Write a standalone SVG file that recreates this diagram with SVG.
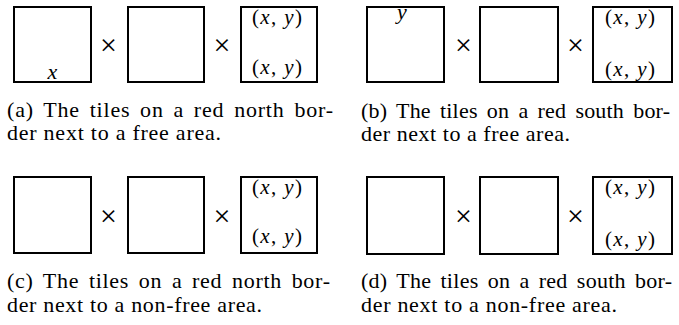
<svg xmlns="http://www.w3.org/2000/svg" width="679" height="325" viewBox="0 0 679 325">
<style>
.tile{fill:none;stroke:#000;stroke-width:2}
.m{font-family:"Liberation Serif","DejaVu Serif",serif;font-size:21px;fill:#000}
.i{font-style:italic}
.v{font-family:"Liberation Serif","DejaVu Serif",serif;font-size:22px;font-style:italic;fill:#000;text-anchor:middle}
.op{font-family:"Liberation Serif","DejaVu Serif",serif;font-size:30px;fill:#000;text-anchor:middle}
.cap{font-family:"Liberation Serif","Times New Roman",serif;font-size:22px;fill:#000}
.j{word-spacing:3.5px}
</style>
<rect width="679" height="325" fill="#fff"/>
<g id="panel-a">
  <g id="a-tile1"><rect class="tile" x="14" y="7" width="77" height="75"/><text class="v" x="52.5" y="79">x</text></g>
  <text class="op" x="108.5" y="55">×</text>
  <g id="a-tile2"><rect class="tile" x="128" y="7" width="76" height="75"/></g>
  <text class="op" x="222" y="55">×</text>
  <g id="a-tile3"><rect class="tile" x="241" y="7" width="76" height="75"/>
    <text class="m" x="252" y="24" textLength="50" lengthAdjust="spacing">(<tspan class="i">x</tspan>, <tspan class="i">y</tspan>)</text>
    <text class="m" x="252" y="74" textLength="50" lengthAdjust="spacing">(<tspan class="i">x</tspan>, <tspan class="i">y</tspan>)</text>
  </g>
  <text class="cap j" x="7" y="117" textLength="326" lengthAdjust="spacing">(a) The tiles on a red north bor-</text>
  <text class="cap" x="7" y="140" textLength="214" lengthAdjust="spacing">der next to a free area.</text>
</g>
<g id="panel-b">
  <g id="b-tile1"><rect class="tile" x="367" y="7" width="77" height="75"/><text class="v" x="402" y="18.5">y</text></g>
  <text class="op" x="463.5" y="55">×</text>
  <g id="b-tile2"><rect class="tile" x="480" y="7" width="78" height="75"/></g>
  <text class="op" x="575.5" y="55">×</text>
  <g id="b-tile3"><rect class="tile" x="593" y="7" width="79" height="75"/>
    <text class="m" x="605" y="24" textLength="50" lengthAdjust="spacing">(<tspan class="i">x</tspan>, <tspan class="i">y</tspan>)</text>
    <text class="m" x="605" y="76" textLength="50" lengthAdjust="spacing">(<tspan class="i">x</tspan>, <tspan class="i">y</tspan>)</text>
  </g>
  <text class="cap j" x="361" y="118" textLength="309" lengthAdjust="spacing">(b) The tiles on a red south bor-</text>
  <text class="cap" x="361" y="141" textLength="209" lengthAdjust="spacing">der next to a free area.</text>
</g>
<g id="panel-c">
  <g id="c-tile1"><rect class="tile" x="14" y="177" width="77" height="76"/></g>
  <text class="op" x="108.5" y="226">×</text>
  <g id="c-tile2"><rect class="tile" x="128" y="177" width="76" height="76"/></g>
  <text class="op" x="222" y="226">×</text>
  <g id="c-tile3"><rect class="tile" x="241" y="177" width="76" height="76"/>
    <text class="m" x="252" y="194" textLength="50" lengthAdjust="spacing">(<tspan class="i">x</tspan>, <tspan class="i">y</tspan>)</text>
    <text class="m" x="252" y="243" textLength="50" lengthAdjust="spacing">(<tspan class="i">x</tspan>, <tspan class="i">y</tspan>)</text>
  </g>
  <text class="cap j" x="7" y="288" textLength="323" lengthAdjust="spacing">(c) The tiles on a red north bor-</text>
  <text class="cap" x="7" y="312" textLength="255" lengthAdjust="spacing">der next to a non-free area.</text>
</g>
<g id="panel-d">
  <g id="d-tile1"><rect class="tile" x="367" y="177" width="77" height="77"/></g>
  <text class="op" x="463.5" y="226">×</text>
  <g id="d-tile2"><rect class="tile" x="480" y="177" width="78" height="77"/></g>
  <text class="op" x="575.5" y="226">×</text>
  <g id="d-tile3"><rect class="tile" x="593" y="177" width="79" height="77"/>
    <text class="m" x="605" y="194" textLength="50" lengthAdjust="spacing">(<tspan class="i">x</tspan>, <tspan class="i">y</tspan>)</text>
    <text class="m" x="605" y="246" textLength="50" lengthAdjust="spacing">(<tspan class="i">x</tspan>, <tspan class="i">y</tspan>)</text>
  </g>
  <text class="cap j" x="361" y="288" textLength="311" lengthAdjust="spacing">(d) The tiles on a red south bor-</text>
  <text class="cap" x="361" y="312" textLength="256" lengthAdjust="spacing">der next to a non-free area.</text>
</g>
</svg>
